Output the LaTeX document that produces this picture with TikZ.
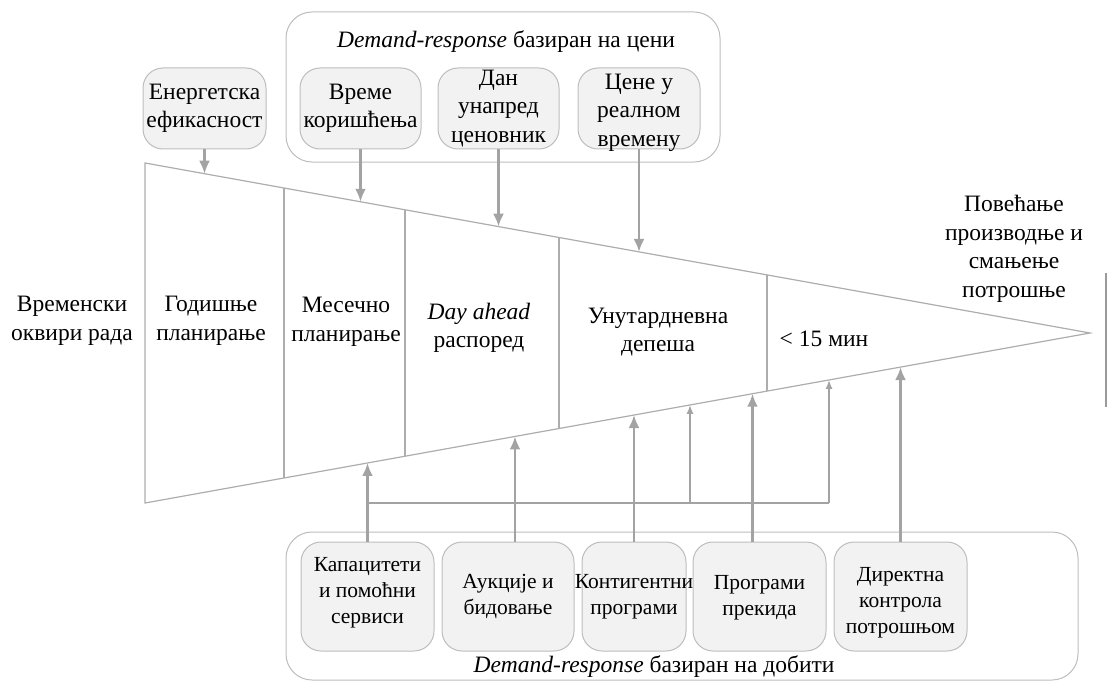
\documentclass[tikz,border=0pt]{standalone}
\usepackage{fontspec}
\setmainfont{Liberation Serif}
\usetikzlibrary{arrows.meta,calc}

\definecolor{edgegrey}{HTML}{ADADAD}
\definecolor{arrowgrey}{HTML}{A3A3A3}
\definecolor{boxfill}{HTML}{F2F2F2}
\definecolor{boxline}{HTML}{BDBDBD}
\definecolor{sidegrey}{HTML}{9A9A9A}

\tikzset{
  lbl/.style={align=center, inner sep=0pt, text=black,
    font=\fontsize{23.5}{28.5}\selectfont},
  lblsmall/.style={align=center, inner sep=0pt, text=black,
    font=\fontsize{21.5}{26}\selectfont},
  optbox/.style={draw=boxline, fill=boxfill, rounded corners=20pt,
    line width=1pt, inner sep=0pt},
  groupbox/.style={draw=boxline, rounded corners=26pt, line width=1pt,
    inner sep=0pt},
  fanedge/.style={draw=edgegrey, line width=1.2pt},
  feed/.style={draw=arrowgrey, line width=2.4pt,
    -{Latex[length=13pt,width=11pt]}},
  feedthin/.style={draw=arrowgrey, line width=1.4pt,
    -{Latex[length=9pt,width=7pt]}},
  bus/.style={draw=arrowgrey, line width=1.6pt},
}

\begin{document}
\begin{tikzpicture}[x=1pt,y=-1pt]
\useasboundingbox (0,0) rectangle (1108,682);

% ---- the time-frame wedge ----
\coordinate (tl) at (145,163);
\coordinate (bl) at (145,503);
\coordinate (apex) at (1090,333);
\draw[fanedge] (tl) -- (apex) -- (bl) -- cycle;

% vertical dividers between the time frames
\foreach \name/\t in {d1/0.1471, d2/0.2751, d3/0.4381, d4/0.6582}{
  \coordinate (\name t) at ($(tl)!\t!(apex)$);
  \coordinate (\name b) at ($(bl)!\t!(apex)$);
  \draw[fanedge] (\name t) -- (\name b);
}

% labels inside and beside the wedge
\node[lbl] (frames) at (72,321) {Временски\\оквири рада};
\node[lbl] (yearly) at (211,321) {Годишње\\планирање};
\node[lbl] (monthly) at (346,322) {Месечно\\планирање};
\node[lbl] (dayahead) at (479,328) {\textit{Day ahead}\\распоред};
\node[lbl] (intraday) at (658,332) {Унутардневна\\депеша};
\node[lbl] (minutes) at (824,339) {< 15 мин};
\node[lbl] (goal) at (1014,249) {Повећање\\производње и\\смањење\\потрошње};

% side marker at the right edge
\coordinate (sideA) at (1106,273);
\coordinate (sideB) at (1106,407);
\draw[draw=sidegrey, line width=1.3pt] (sideA) -- (sideB);

% ---- price-based programmes (top) ----
\node[groupbox, minimum width=434pt, minimum height=150pt] (priceGrp) at (503,87) {};
\node[lbl] (priceTitle) at (506,42) {\textit{Demand-response} базиран на цени};

\node[optbox, minimum width=123pt, minimum height=81pt] (ee)  at (204.5,108.5) {};
\node[optbox, minimum width=121pt, minimum height=81pt] (tou) at (360.5,108.5) {};
\node[optbox, minimum width=121pt, minimum height=81pt] (dan) at (498.5,108.5) {};
\node[optbox, minimum width=122pt, minimum height=81pt] (rtp) at (639,108.5) {};

\node[lbl] (eeT)  at (ee)  {Енергетска\\ефикасност};
\node[lbl] (touT) at (tou) {Време\\коришћења};
\node[lbl] (danT) at (dan) {Дан\\унапред\\ценовник};
\node[lbl] (rtpT) at ([yshift=-4pt]rtp.center) {Цене у\\реалном\\времену};

\foreach \b in {ee,tou,dan,rtp}{
  \draw[feed] (\b.south) -- (intersection of tl--apex and \b.south--\b.north);
}

% ---- incentive-based programmes (bottom) ----
\node[groupbox, minimum width=792pt, minimum height=148pt] (incGrp) at (682,606) {};
\node[lbl] (incTitle) at (654,667) {\textit{Demand-response} базиран на добити};

\node[optbox, minimum width=133pt, minimum height=109pt] (kap) at (367.5,596.5) {};
\node[optbox, minimum width=132pt, minimum height=109pt] (auk) at (508,596.5) {};
\node[optbox, minimum width=104pt, minimum height=109pt] (kon) at (634,596.5) {};
\node[optbox, minimum width=133pt, minimum height=109pt] (prg) at (759.5,596.5) {};
\node[optbox, minimum width=133pt, minimum height=109pt] (dlc) at (900.5,596.5) {};

\node[lblsmall] (kapT) at ([yshift=4pt]kap.center) {Капацитети\\и помоћни\\сервиси};
\node[lblsmall] (aukT) at (auk) {Аукције и\\бидовање};
\node[lblsmall] (konT) at (kon) {Контигентни\\програми};
\node[lblsmall] (prgT) at ([yshift=-1pt]prg.center) {Програми\\прекида};
\node[lblsmall] (dlcT) at ([yshift=-6pt]dlc.center) {Директна\\контрола\\потрошњом};

% feeds from the incentive programmes up into the wedge
\coordinate (aukA) at ($(auk.north)+(7,0)$);
\coordinate (aukB) at ($(auk.south)+(7,0)$);
\coordinate (prgA) at ($(prg.north)+(-7,0)$);
\coordinate (prgB) at ($(prg.south)+(-7,0)$);

\draw[feed] (kap.north) -- (intersection of bl--apex and kap.north--kap.south);
\draw[feed] (aukA) -- (intersection of bl--apex and aukA--aukB);
\draw[feed] (kon.north) -- (intersection of bl--apex and kon.north--kon.south);
\draw[feed] (prgA) -- (intersection of bl--apex and prgA--prgB);
\draw[feed] (dlc.north) -- (intersection of bl--apex and dlc.north--dlc.south);

% distribution bus with two branches
\coordinate (busY) at (0,503);
\coordinate (hL) at (kap.north |- busY);
\coordinate (hM) at (690,503);
\coordinate (hR) at (829,503);
\coordinate (hMu) at (690,300);
\coordinate (hRu) at (829,300);
\draw[bus] (hL) -- (hR);
\draw[feedthin] (hM) -- (intersection of bl--apex and hM--hMu);
\draw[feedthin] (hR) -- (intersection of bl--apex and hR--hRu);

\end{tikzpicture}
\end{document}
